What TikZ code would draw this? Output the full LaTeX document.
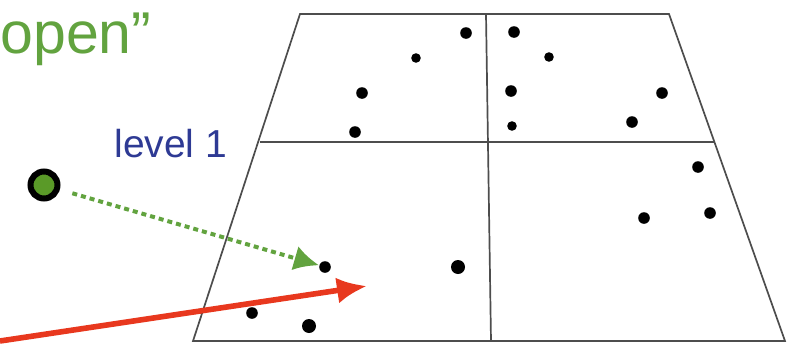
\documentclass[tikz,border=0pt]{standalone}
\usepackage{fontspec}
\setmainfont{Liberation Sans}
\usetikzlibrary{arrows.meta}
\definecolor{Leaf}{HTML}{62A33F}
\definecolor{Moss}{HTML}{5A9A28}
\definecolor{Navy}{HTML}{2E3A94}
\definecolor{Ember}{HTML}{E8381E}
\definecolor{Rule}{HTML}{4D4D4D}

\begin{document}
\begin{tikzpicture}[x=0.5pt, y=-0.5pt, >=Latex,
    dot/.style={circle, fill=black, inner sep=0pt, minimum size=5.8pt},
    bigdot/.style={dot, minimum size=7pt},
    smalldot/.style={dot, minimum size=4.8pt}]
    \useasboundingbox (0,0) rectangle (793,343);
    % level-1 cell, split in four
    \draw[Rule, line width=0.85pt] (300,14) -- (669,14) -- (785,341) -- (193,341) -- cycle;
    \draw[Rule, line width=0.85pt] (260,142) -- (714,142);
    \draw[Rule, line width=0.85pt] (486,14) -- (491,341);
    % points
    \node[dot] (d1) at (466,33) {};
    \node[dot] (d2) at (514,32) {};
    \node[smalldot] (d3) at (416,58) {};
    \node[smalldot] (d4) at (549,57) {};
    \node[dot] (d5) at (362,93) {};
    \node[dot] (d6) at (511,91) {};
    \node[dot] (d7) at (662,93) {};
    \node[dot] (d8) at (355,132) {};
    \node[smalldot] (d9) at (512,126) {};
    \node[dot] (d10) at (632,122) {};
    \node[dot] (d11) at (698,167) {};
    \node[dot] (d12) at (644,218) {};
    \node[dot] (d13) at (710,213) {};
    \node[dot] (d14) at (325,267) {};
    \node[bigdot] (d15) at (458,267) {};
    \node[dot] (d16) at (252,313) {};
    \node[bigdot] (d17) at (309,326) {};
    % labels
    \node[anchor=base west, inner sep=0pt, text=Leaf, font=\fontsize{29.5}{31}\selectfont] (open) at (0,53) {open”};
    \node[anchor=base west, inner sep=0pt, text=Navy, font=\fontsize{19.5}{21}\selectfont] (lvl) at (114,157) {level 1};
    % query and rays
    \node[circle, draw=black, line width=3pt, fill=Moss, minimum size=13.5pt, inner sep=0pt] (src) at (44,185) {};
    \draw[-{Latex[length=12.5pt, width=12.5pt]}, line width=2pt, color=Leaf, dash pattern=on 2.5pt off 2pt, shorten <=6.5pt] (src) -- (d14);
    \coordinate (rtail) at (0,341);
    \coordinate (rtip) at (367,286);
    \draw[-{Latex[length=15pt, width=13pt]}, line width=2.8pt, color=Ember] (rtail) -- (rtip);
\end{tikzpicture}
\end{document}
